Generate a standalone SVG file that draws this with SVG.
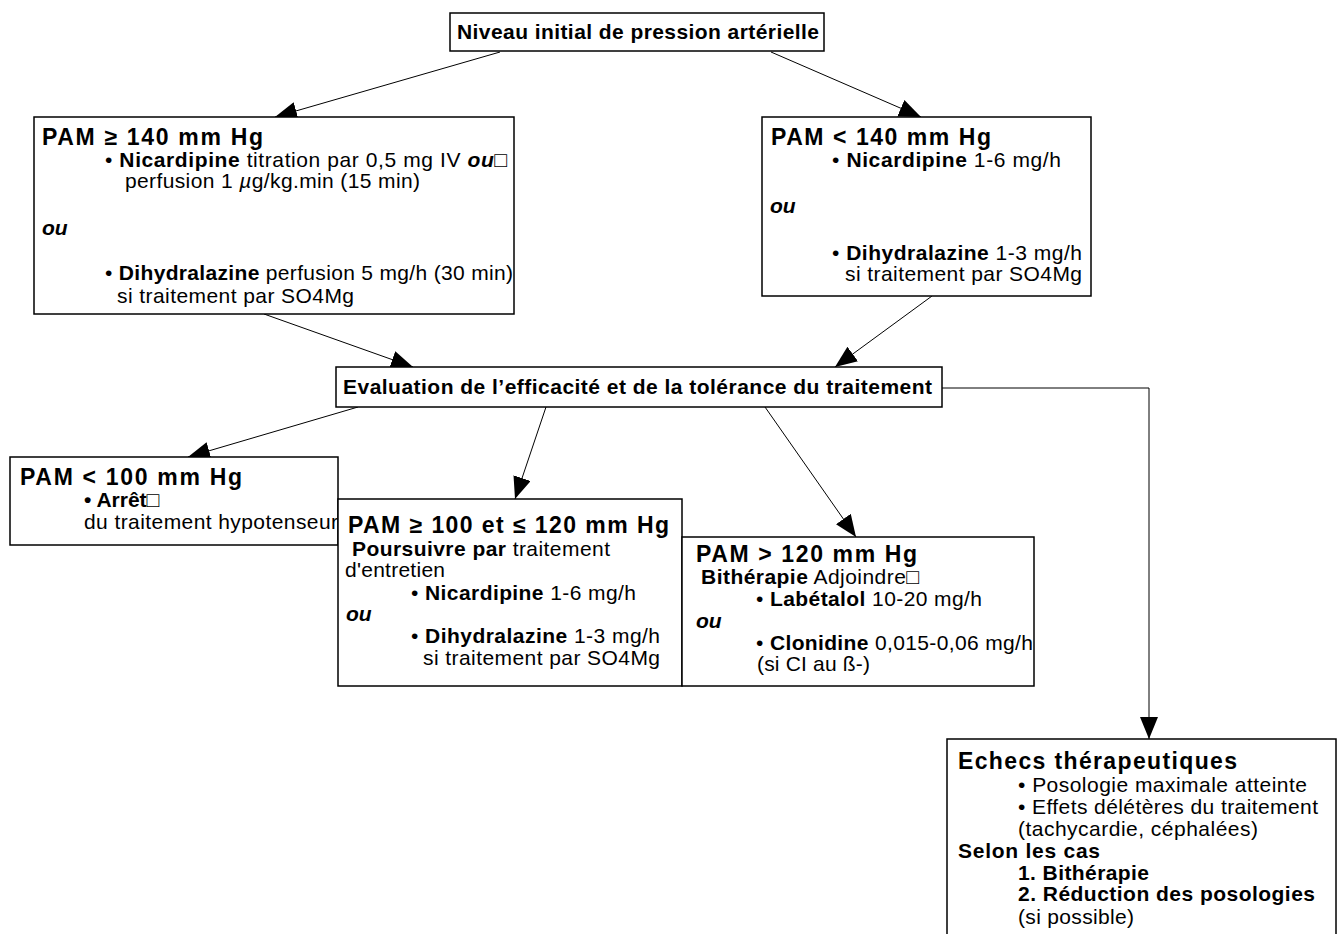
<svg xmlns="http://www.w3.org/2000/svg" width="1338" height="934" viewBox="0 0 1338 934">
<style>
.box{fill:#fff;stroke:#000;stroke-width:1.5}
text{font-family:"Liberation Sans",Arial,Helvetica,sans-serif;font-size:21px;fill:#000}
.h{font-weight:bold;font-size:23px}
.b{font-weight:bold}
.ou{font-weight:bold;font-style:italic}
.conn{stroke:#000;stroke-width:1;fill:none}
</style>
<defs>
<marker id="ah" markerUnits="userSpaceOnUse" markerWidth="22" markerHeight="18" refX="22" refY="9" orient="auto">
<path d="M0,0 L22,9 L0,18 z" fill="#000"/>
</marker>
</defs>
<rect width="1338" height="934" fill="#fff"/>

<g id="connectors">
<line class="conn" x1="500" y1="52" x2="275" y2="117" marker-end="url(#ah)"/>
<line class="conn" x1="771" y1="52" x2="921" y2="117" marker-end="url(#ah)"/>
<line class="conn" x1="264" y1="314" x2="413" y2="367" marker-end="url(#ah)"/>
<line class="conn" x1="932" y1="296" x2="835" y2="367" marker-end="url(#ah)"/>
<line class="conn" x1="358" y1="407" x2="188" y2="457" marker-end="url(#ah)"/>
<line class="conn" x1="546" y1="407" x2="515" y2="499" marker-end="url(#ah)"/>
<line class="conn" x1="765" y1="407" x2="856" y2="537" marker-end="url(#ah)"/>
<polyline class="conn" points="942,388 1149,388 1149,739" marker-end="url(#ah)"/>
</g>

<g id="node-niveau">
<rect class="box" x="450" y="13" width="374" height="38"/>
<text class="b" x="457" y="39" textLength="362" lengthAdjust="spacing">Niveau initial de pression artérielle</text>
</g>

<g id="node-pam140plus">
<rect class="box" x="34" y="117" width="480" height="197"/>
<text class="h" x="42" y="145" textLength="221" lengthAdjust="spacing">PAM ≥ 140 mm Hg</text>
<text x="105" y="167" textLength="402" lengthAdjust="spacing">• <tspan class="b">Nicardipine</tspan> titration par 0,5 mg IV <tspan class="ou">ou</tspan>□</text>
<text x="125" y="188" textLength="295" lengthAdjust="spacing">perfusion 1 <tspan font-style="italic">µ</tspan>g/kg.min (15 min)</text>
<text class="ou" x="42" y="235">ou</text>
<text x="105" y="280" textLength="408" lengthAdjust="spacing">• <tspan class="b">Dihydralazine</tspan> perfusion 5 mg/h (30 min)</text>
<text x="117" y="303" textLength="237" lengthAdjust="spacing">si traitement par SO4Mg</text>
</g>

<g id="node-pam140minus">
<rect class="box" x="762" y="117" width="329" height="179"/>
<text class="h" x="771" y="145" textLength="220" lengthAdjust="spacing">PAM &lt; 140 mm Hg</text>
<text x="832" y="167" textLength="229" lengthAdjust="spacing">• <tspan class="b">Nicardipine</tspan> 1-6 mg/h</text>
<text class="ou" x="770" y="213">ou</text>
<text x="832" y="260" textLength="250" lengthAdjust="spacing">• <tspan class="b">Dihydralazine</tspan> 1-3 mg/h</text>
<text x="845" y="281" textLength="237" lengthAdjust="spacing">si traitement par SO4Mg</text>
</g>

<g id="node-evaluation">
<rect class="box" x="336" y="367" width="606" height="40"/>
<text class="b" x="343" y="394" textLength="589" lengthAdjust="spacing">Evaluation de l’efficacité et de la tolérance du traitement</text>
</g>

<g id="node-pam100minus">
<rect class="box" x="10" y="457" width="328" height="88"/>
<text class="h" x="20" y="485" textLength="222" lengthAdjust="spacing">PAM &lt; 100 mm Hg</text>
<text class="b" x="84" y="507">• Arrêt□</text>
<text x="84" y="529" textLength="254" lengthAdjust="spacing">du traitement hypotenseur</text>
</g>

<g id="node-pam100-120">
<rect class="box" x="338" y="499" width="344" height="187"/>
<text class="h" x="348" y="533" textLength="321" lengthAdjust="spacing">PAM ≥ 100 et ≤ 120 mm Hg</text>
<text x="352" y="556" textLength="258" lengthAdjust="spacing"><tspan class="b">Poursuivre par</tspan> traitement</text>
<text x="345" y="577" textLength="100" lengthAdjust="spacing">d'entretien</text>
<text x="411" y="600" textLength="225" lengthAdjust="spacing">• <tspan class="b">Nicardipine</tspan> 1-6 mg/h</text>
<text class="ou" x="346" y="621">ou</text>
<text x="411" y="643" textLength="249" lengthAdjust="spacing">• <tspan class="b">Dihydralazine</tspan> 1-3 mg/h</text>
<text x="423" y="665" textLength="237" lengthAdjust="spacing">si traitement par SO4Mg</text>
</g>

<g id="node-pam120plus">
<rect class="box" x="682" y="537" width="352" height="149"/>
<text class="h" x="696" y="562" textLength="221" lengthAdjust="spacing">PAM &gt; 120 mm Hg</text>
<text x="701" y="584" textLength="218" lengthAdjust="spacing"><tspan class="b">Bithérapie</tspan> Adjoindre□</text>
<text x="756" y="606" textLength="226" lengthAdjust="spacing">• <tspan class="b">Labétalol</tspan> 10-20 mg/h</text>
<text class="ou" x="696" y="628">ou</text>
<text x="756" y="650" textLength="277" lengthAdjust="spacing">• <tspan class="b">Clonidine</tspan> 0,015-0,06 mg/h</text>
<text x="757" y="671" textLength="113" lengthAdjust="spacing">(si CI au ß-)</text>
</g>

<g id="node-echecs">
<rect class="box" x="947" y="739" width="389" height="210"/>
<text class="h" x="958" y="769" textLength="279" lengthAdjust="spacing">Echecs thérapeutiques</text>
<text x="1018" y="792" textLength="289" lengthAdjust="spacing">• Posologie maximale atteinte</text>
<text x="1018" y="814" textLength="300" lengthAdjust="spacing">• Effets délétères du traitement</text>
<text x="1018" y="836" textLength="240" lengthAdjust="spacing">(tachycardie, céphalées)</text>
<text class="b" x="958" y="858" textLength="142" lengthAdjust="spacing">Selon les cas</text>
<text class="b" x="1018" y="880" textLength="131" lengthAdjust="spacing">1. Bithérapie</text>
<text class="b" x="1018" y="901" textLength="297" lengthAdjust="spacing">2. Réduction des posologies</text>
<text x="1018" y="924" textLength="116" lengthAdjust="spacing">(si possible)</text>
</g>
</svg>
